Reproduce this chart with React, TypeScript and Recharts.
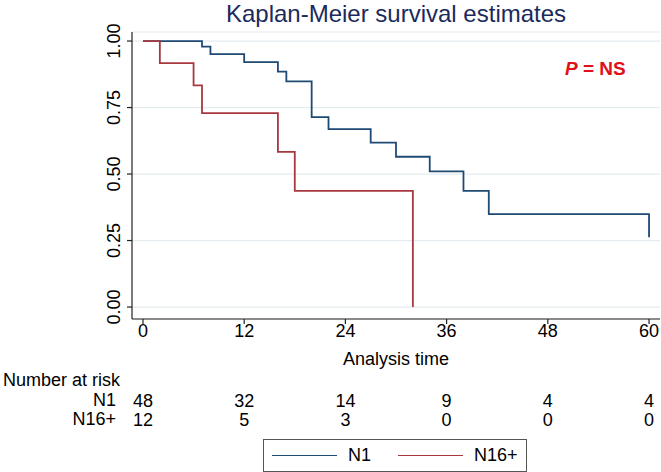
import React from "react";
import {
  LineChart,
  Line,
  XAxis,
  YAxis,
  CartesianGrid,
  Legend,
  Customized,
} from "recharts";

const FONT = '"Liberation Sans", Arial, Helvetica, sans-serif';
const FS = 18;

// Kaplan-Meier step data
const n1Time = [0, 7, 8, 12, 16, 17, 20, 22, 27, 30, 34, 38, 41, 60];
const n1Surv = [1, 0.979, 0.951, 0.921, 0.885, 0.848, 0.714, 0.669, 0.618, 0.565, 0.51, 0.437, 0.349, 0.262];
const n16Time = [0, 2, 6, 7, 16, 18, 32];
const n16Surv = [1, 0.917, 0.833, 0.729, 0.583, 0.437, 0];

const xTicks = [0, 12, 24, 36, 48, 60];
const yTicks = [0, 0.25, 0.5, 0.75, 1];
const n1Risk = [48, 32, 14, 9, 4, 4];
const n16Risk = [12, 5, 3, 0, 0, 0];

const BLUE = "#1f4a74";
const RED = "#a8383f";

const n1Data = n1Time.map((t, i) => ({ t, s: n1Surv[i] }));
const n16Data = n16Time.map((t, i) => ({ t, s: n16Surv[i] }));

const xDomain = [-1.3, 61.3];

const riskLabel = (arr: number[]) => (v: number) => {
  const i = xTicks.indexOf(v);
  return i >= 0 ? String(arr[i]) : "";
};

const YTick = (props: any) => {
  const { x, y, payload } = props;
  const bx = x - 5;
  return (
    <text
      x={bx}
      y={y}
      transform={`rotate(-90 ${bx} ${y})`}
      textAnchor="middle"
      fontSize={FS}
      fontFamily={FONT}
      fill="#000"
    >
      {Number(payload.value).toFixed(2)}
    </text>
  );
};

const renderLegend = (props: any) => {
  const payload = (props.payload || []).filter((p: any) => p.type !== "none");
  const lefts = [8, 134];
  return (
    <div style={{ height: 42, position: "relative", fontFamily: FONT }}>
      <div
        style={{
          position: "absolute",
          left: 263,
          top: 9,
          width: 262,
          height: 31,
          border: "1px solid #555",
          background: "#fff",
        }}
      >
        {payload.map((p: any, i: number) => (
          <div
            key={p.value}
            style={{
              position: "absolute",
              left: lefts[i],
              top: 0,
              height: 31,
              display: "flex",
              alignItems: "center",
              fontSize: FS,
              color: "#000",
            }}
          >
            <span
              style={{
                display: "inline-block",
                width: 65,
                height: 0,
                borderTop: `1.5px solid ${p.color}`,
                marginRight: 11,
              }}
            />
            {p.value}
          </div>
        ))}
      </div>
    </div>
  );
};

const tickStyle = { fontSize: FS, fill: "#000", fontFamily: FONT };

export default function App() {
  return (
    <div style={{ position: "absolute", left: 0, top: 0, fontFamily: FONT }}>
      <LineChart
        width={661}
        height={472}
        margin={{ top: 32, right: 1, left: 0, bottom: 0 }}
      >
        <CartesianGrid
          vertical={false}
          stroke="#e4ecef"
          strokeWidth={1.2}
          xAxisId="xa"
          yAxisId="y"
        />
        <XAxis
          xAxisId="xa"
          dataKey="t"
          type="number"
          domain={xDomain}
          allowDataOverflow
          ticks={xTicks}
          height={73}
          tickSize={5}
          tickMargin={0}
          axisLine={{ stroke: "#222", strokeWidth: 1.2 }}
          tickLine={{ stroke: "#222", strokeWidth: 1.2 }}
          tick={tickStyle}
          label={{
            content: (lp: any) => {
              const vb = lp.viewBox || {};
              return (
                <text
                  x={vb.x + vb.width / 2}
                  y={vb.y + 46}
                  textAnchor="middle"
                  fontSize={FS}
                  fontFamily={FONT}
                  fill="#000"
                >
                  Analysis time
                </text>
              );
            },
          }}
        />
        <XAxis
          xAxisId="xb"
          dataKey="t"
          type="number"
          domain={xDomain}
          allowDataOverflow
          ticks={xTicks}
          height={19}
          tickSize={0}
          tickMargin={2}
          axisLine={false}
          tickLine={false}
          tickFormatter={riskLabel(n1Risk)}
          tick={tickStyle}
          label={{
            content: (lp: any) => {
              const vb = lp.viewBox || {};
              return (
                <g>
                  <text x={3} y={vb.y - 6} fontSize={FS} fontFamily={FONT} fill="#000">
                    Number at risk
                  </text>
                  <text
                    x={vb.x - 16}
                    y={vb.y + 14}
                    textAnchor="end"
                    fontSize={FS}
                    fontFamily={FONT}
                    fill="#000"
                  >
                    N1
                  </text>
                </g>
              );
            },
          }}
        />
        <XAxis
          xAxisId="xc"
          dataKey="t"
          type="number"
          domain={xDomain}
          allowDataOverflow
          ticks={xTicks}
          height={19}
          tickSize={0}
          tickMargin={2}
          axisLine={false}
          tickLine={false}
          tickFormatter={riskLabel(n16Risk)}
          tick={tickStyle}
          label={{
            content: (lp: any) => {
              const vb = lp.viewBox || {};
              return (
                <text
                  x={vb.x - 16}
                  y={vb.y + 14}
                  textAnchor="end"
                  fontSize={FS}
                  fontFamily={FONT}
                  fill="#000"
                >
                  N16+
                </text>
              );
            },
          }}
        />
        <YAxis
          yAxisId="y"
          type="number"
          domain={[-0.045, 1.034]}
          allowDataOverflow
          ticks={yTicks}
          width={132}
          tickSize={5}
          tickMargin={2}
          axisLine={{ stroke: "#222", strokeWidth: 1.2 }}
          tickLine={{ stroke: "#222", strokeWidth: 1.2 }}
          tick={<YTick />}
        />
        <Legend verticalAlign="bottom" content={renderLegend} />
        {/* invisible carriers so the risk-table axes get a domain */}
        <Line
          xAxisId="xb"
          yAxisId="y"
          data={n1Data}
          dataKey="s"
          stroke="none"
          dot={false}
          activeDot={false}
          legendType="none"
          isAnimationActive={false}
        />
        <Line
          xAxisId="xc"
          yAxisId="y"
          data={n16Data}
          dataKey="s"
          stroke="none"
          dot={false}
          activeDot={false}
          legendType="none"
          isAnimationActive={false}
        />
        <Line
          xAxisId="xa"
          yAxisId="y"
          data={n1Data}
          dataKey="s"
          name="N1"
          type="stepAfter"
          stroke={BLUE}
          strokeWidth={1.8}
          dot={false}
          activeDot={false}
          isAnimationActive={false}
        />
        <Line
          xAxisId="xa"
          yAxisId="y"
          data={n16Data}
          dataKey="s"
          name="N16+"
          type="stepAfter"
          stroke={RED}
          strokeWidth={1.8}
          dot={false}
          activeDot={false}
          isAnimationActive={false}
        />
        <Customized
          component={() => (
            <g fontFamily={FONT}>
              <text x={396} y={22} textAnchor="middle" fontSize={24} fill="#1b2a5c">
                Kaplan-Meier survival estimates
              </text>
              <text x={565} y={75} fontSize={19} fontWeight="bold" fill="#e0101a">
                <tspan fontStyle="italic">P</tspan> = NS
              </text>
            </g>
          )}
        />
      </LineChart>
    </div>
  );
}
